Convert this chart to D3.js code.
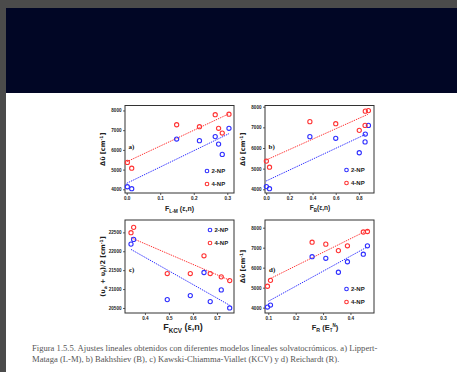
<!DOCTYPE html>
<html>
<head>
<meta charset="utf-8">
<script src="https://cdn.jsdelivr.net/npm/d3@7"></script>
<style>
  html, body { margin: 0; padding: 0; background: #4b4b4b; }
  svg { display: block; }
</style>
</head>
<body>
<div id="graph"></div>
<script>
// Shifts (cm-1) per solvent, shared by panels a, b and d
const stokes2NP = [4130, 4030, 6550, 6470, 6675, 6295, 5770, 7095];
const stokes4NP = [5365, 5070, 7275, 7177, 7785, 7095, 6855, 7810];

// Solvent polarity functions per panel
const fLM = [0.002, 0.015, 0.149, 0.217, 0.264, 0.274, 0.285, 0.305];
const fB = [0.002, 0.029, 0.377, 0.600, 0.855, 0.853, 0.803, 0.882];
const fR = [0.108, 0.097, 0.260, 0.310, 0.447, 0.389, 0.356, 0.462];

// Panel c
const fKCV = [0.342, 0.353, 0.493, 0.589, 0.646, 0.672, 0.718, 0.753];
const mean2NP = [22190, 22314, 20721, 20827, 21438, 20668, 20978, 20500];
const mean4NP = [22491, 22633, 21411, 21411, 21880, 21411, 21323, 21226];

// Linear fits: [x0, y0, x1, y1]
const fitA = { blue: [0.0, 4304, 0.305, 6824], red: [0.0, 5396, 0.305, 7832] };
const fitB = { blue: [0.0, 4403, 0.857, 6661], red: [0.0, 5419, 0.877, 7629] };
const fitC = { blue: [0.342, 22049, 0.753, 20571], red: [0.342, 22358, 0.753, 21234] };
const fitD = { blue: [0.1, 4317, 0.458, 7012], red: [0.1, 5405, 0.464, 7883] };

const yTicksShift = [4000, 5000, 6000, 7000, 8000];
const yTicksMean = [20500, 21000, 21500, 22000, 22500];
const seriesNames = ['2-NP', '4-NP'];

const caption = [
	'Figura 1.5.5. Ajustes lineales obtenidos con diferentes modelos lineales solvatocrómicos. a) Lippert-',
	'Mataga (L-M), b) Bakhshiev (B), c) Kawski-Chiamma-Viallet (KCV) y d) Reichardt (R).'
];

const BLUE = '#2f2fff', RED = '#ff3434';

const W = 457, H = 372;
const svg = d3.select('#graph').append('svg').attr('width', W).attr('height', H);

// Page background: grey frame, navy band, white sheet
svg.append('rect').attr('width', W).attr('height', H).attr('fill', '#4b4b4b');
svg.append('rect').attr('x', 6).attr('y', 8).attr('width', W - 6).attr('height', H - 8).attr('fill', '#fff');
svg.append('rect').attr('x', 6).attr('y', 8).attr('width', W - 6).attr('height', 85).attr('fill', '#010625');

const panels = [
	{ id: 'a)', x: fLM, ys: [stokes2NP, stokes4NP], fit: fitA,
		box: [125, 105.5, 234, 193], xd: [-0.005, 0.32], yd: [3813, 8252],
		xt: [0, 0.1, 0.2, 0.3], yt: yTicksShift, lab: [128.5, 146], leg: [207, 171],
		ytitle: 'shift', xtitle: ['F', 'L-M', ' (ε,n)'], xtPos: [179.5, 211], xtSize: 7 },
	{ id: 'b)', x: fB, ys: [stokes2NP, stokes4NP], fit: fitB,
		box: [265, 105.5, 374, 193], xd: [-0.01, 0.93], yd: [3821, 8058],
		xt: [0, 0.2, 0.4, 0.6, 0.8], yt: yTicksShift, lab: [268.5, 146], leg: [346.5, 170],
		ytitle: 'shift', xtitle: ['F', 'B', '(ε,n)'], xtPos: [320, 210], xtSize: 6.5 },
	{ id: 'c)', x: fKCV, ys: [mean2NP, mean4NP], fit: fitC,
		box: [125, 220, 234, 313], xd: [0.317, 0.771], yd: [20367, 22827],
		xt: [0.4, 0.5, 0.6, 0.7], yt: yTicksMean, lab: [129, 269], leg: [210, 230],
		ytitle: 'mean', xtitle: ['F', 'KCV', ' (ε,n)'], xtPos: [183, 330], xtSize: 9 },
	{ id: 'd)', x: fR, ys: [stokes2NP, stokes4NP], fit: fitD,
		box: [265, 220, 374, 313], xd: [0.088, 0.486], yd: [3732, 8385],
		xt: [0.1, 0.2, 0.3, 0.4], yt: yTicksShift, lab: [269, 269], leg: [346.5, 289],
		ytitle: 'shift', xtitle: ['F', 'R', ' (E', 'T', 'N', ')'], xtPos: [325, 330], xtSize: 7.5 }
];

panels.forEach((p) => {
	const [x0, y0, x1, y1] = p.box;
	const x = d3.scaleLinear().domain(p.xd).range([x0, x1]);
	const y = d3.scaleLinear().domain(p.yd).range([y1, y0]);
	const g = svg.append('g');

	// Axes
	const ax = g.append('g').attr('transform', `translate(0, ${y1})`)
		.call(d3.axisBottom(x).tickValues(p.xt).tickFormat(d3.format('.1f')).tickSize(2).tickPadding(2));
	const ay = g.append('g').attr('transform', `translate(${x0}, 0)`)
		.call(d3.axisLeft(y).tickValues(p.yt).tickFormat(d3.format('d')).tickSize(2).tickPadding(1.5));
	[ax, ay].forEach((a) => {
		a.select('.domain').remove();
		a.selectAll('.tick line').attr('stroke', '#333').attr('stroke-width', 0.8);
		a.selectAll('.tick text').attr('fill', '#222')
			.style('font', 'bold 4.6px "Liberation Sans", Arial, sans-serif');
	});

	// Frame
	g.append('rect').attr('x', x0).attr('y', y0).attr('width', x1 - x0).attr('height', y1 - y0)
		.attr('fill', 'none').attr('stroke', '#333').attr('stroke-width', 1);

	// Fit lines
	[['blue', BLUE], ['red', RED]].forEach(([k, c]) => {
		const f = p.fit[k];
		g.append('line')
			.attr('x1', x(f[0])).attr('y1', y(f[1])).attr('x2', x(f[2])).attr('y2', y(f[3]))
			.attr('stroke', c).attr('stroke-width', 1).attr('stroke-dasharray', '1.4,1');
	});

	// Points
	p.ys.forEach((ys, i) => {
		g.selectAll(null).data(ys).join('circle')
			.attr('cx', (d, j) => x(p.x[j])).attr('cy', (d) => y(d)).attr('r', 2.1)
			.attr('fill', 'none').attr('stroke', i === 0 ? BLUE : RED).attr('stroke-width', 1.1);
	});

	// Panel letter
	g.append('text').attr('x', p.lab[0]).attr('y', p.lab[1] + 2.5).text(p.id)
		.style('font', 'bold 7px "Liberation Serif", serif').attr('fill', '#111');

	// Legend
	seriesNames.forEach((s, i) => {
		const ly = p.leg[1] + i * 13;
		g.append('circle').attr('cx', p.leg[0]).attr('cy', ly).attr('r', 1.8)
			.attr('fill', 'none').attr('stroke', i === 0 ? BLUE : RED).attr('stroke-width', 1.1);
		g.append('text').attr('x', p.leg[0] + 4.5).attr('y', ly + 2.1).text(s)
			.style('font', 'bold 6px "Liberation Sans", Arial, sans-serif').attr('fill', '#222');
	});

	// Y title
	const yt = g.append('text')
		.attr('transform', `translate(${x0 - 20}, ${(y0 + y1) / 2}) rotate(-90)`)
		.attr('text-anchor', 'middle').attr('fill', '#222')
		.style('font', 'bold 6.5px "DejaVu Sans", sans-serif');
	if (p.ytitle === 'shift') {
		yt.append('tspan').text('Δῡ [cm');
		yt.append('tspan').attr('dy', -2).style('font-size', '4.5px').text('-1');
		yt.append('tspan').attr('dy', 2).text(']');
	} else {
		yt.append('tspan').text('(υ');
		yt.append('tspan').attr('dy', 1.5).style('font-size', '4.5px').text('a');
		yt.append('tspan').attr('dy', -1.5).text(' + υ');
		yt.append('tspan').attr('dy', 1.5).style('font-size', '4.5px').text('f');
		yt.append('tspan').attr('dy', -1.5).text(')/2 [cm');
		yt.append('tspan').attr('dy', -2).style('font-size', '4.5px').text('-1');
		yt.append('tspan').attr('dy', 2).text(']');
	}

	// X title
	const s = p.xtSize;
	const xt = g.append('text').attr('x', p.xtPos[0]).attr('y', p.xtPos[1])
		.attr('text-anchor', 'middle').attr('fill', '#222')
		.style('font', `bold ${s}px "Liberation Sans", Arial, sans-serif`);
	const parts = p.xtitle;
	xt.append('tspan').text(parts[0]);
	xt.append('tspan').attr('dy', s * 0.3).style('font-size', `${s * 0.7}px`).text(parts[1]);
	xt.append('tspan').attr('dy', -s * 0.3).text(parts[2]);
	if (parts.length > 3) {
		xt.append('tspan').attr('dy', s * 0.3).style('font-size', `${s * 0.6}px`).text(parts[3]);
		xt.append('tspan').attr('dy', -s * 0.75).style('font-size', `${s * 0.6}px`).text(parts[4]);
		xt.append('tspan').attr('dy', s * 0.45).text(parts[5]);
	}
});

// Caption
caption.forEach((line, i) => {
	svg.append('text').attr('x', 32).attr('y', 351 + i * 11).text(line)
		.attr('fill', '#555')
		.style('font', '8.6px "Liberation Serif", "DejaVu Serif", serif');
});
</script>
</body>
</html>
